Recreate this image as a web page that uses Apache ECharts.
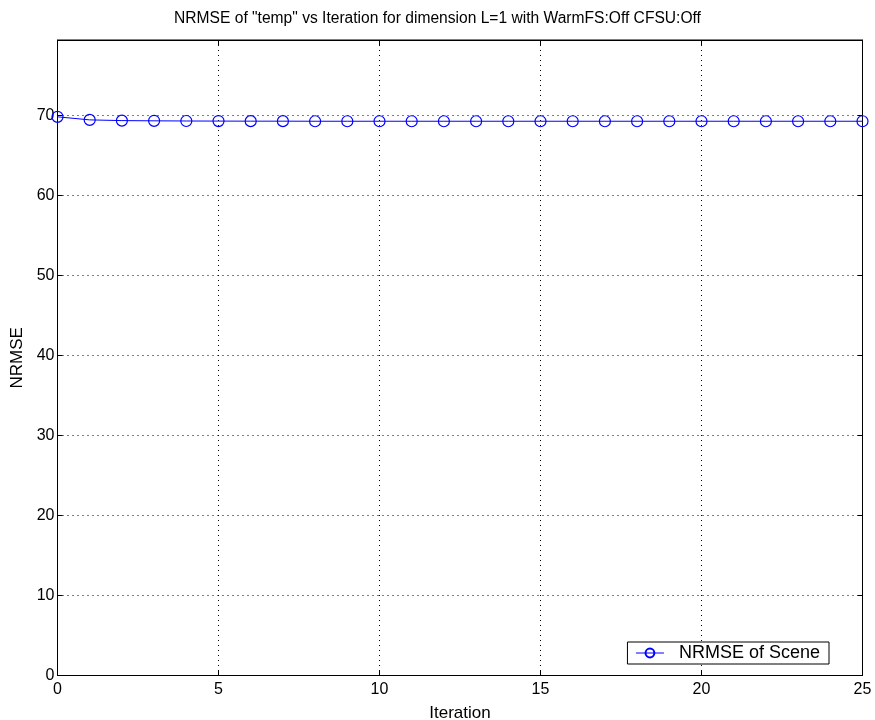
<!DOCTYPE html>
<html>
<head>
<meta charset="utf-8">
<style>
  html, body { margin: 0; padding: 0; background: #fff; }
  #chart { width: 875px; height: 720px; }
</style>
<script src="https://cdn.jsdelivr.net/npm/echarts@6/dist/echarts.min.js"></script>
</head>
<body>
<div id="chart"></div>
<script>
// NRMSE per iteration
const iterations = [0, 1, 2, 3, 4, 5, 6, 7, 8, 9, 10, 11, 12, 13, 14, 15, 16, 17, 18, 19, 20, 21, 22, 23, 24, 25];
const nrmseScene = [69.8, 69.42, 69.33, 69.3, 69.28, 69.27, 69.26, 69.26, 69.25, 69.25, 69.25, 69.25, 69.25,
                    69.25, 69.25, 69.25, 69.25, 69.25, 69.25, 69.25, 69.25, 69.25, 69.25, 69.25, 69.25, 69.25];
const xTicks = [0, 5, 10, 15, 20, 25];
const yTicks = [0, 10, 20, 30, 40, 50, 60, 70];
const yMax = 79.4;

const FONT = 'Arial, "Liberation Sans", Helvetica, sans-serif';
const chart = echarts.init(document.getElementById('chart'), null, { renderer: 'canvas' });

// inward tick marks on all four sides of the box
const ticks = vals => ({
  show: true, inside: true, length: 5, customValues: vals,
  lineStyle: { color: '#000', width: 1 }
});
const dotted = () => ({ show: true, lineStyle: { color: '#000', type: [1, 4], width: 1 } });
const line = () => ({ show: true, onZero: false, lineStyle: { color: '#000', width: 1 } });

chart.setOption({
  animation: false,
  backgroundColor: '#fff',
  textStyle: { fontFamily: FONT },
  title: {
    text: 'NRMSE of "temp" vs Iteration for dimension L=1 with WarmFS:Off CFSU:Off',
    left: 'center', top: 6,
    textStyle: { fontFamily: FONT, fontSize: 15.6, fontWeight: 'normal', color: '#000' }
  },
  grid: {
    left: 57.5, right: 12.5, top: 40, bottom: 44.5,
    containLabel: false, outerBoundsMode: 'none',
    show: true, borderColor: '#000', borderWidth: 1
  },
  legend: {
    right: 46, bottom: 56,
    padding: [2, 9, 2, 8],
    borderColor: '#000', borderWidth: 1, borderRadius: 0,
    backgroundColor: '#fff',
    itemWidth: 28, itemHeight: 11,
    lineStyle: { width: 1 },
    textStyle: { fontFamily: FONT, fontSize: 18, color: '#000', padding: [0, 0, 0, 10] },
    data: [{ name: 'NRMSE of Scene' }]
  },
  xAxis: [{
    type: 'value', min: xTicks[0], max: xTicks[xTicks.length - 1], interval: 5,
    name: 'Iteration', nameLocation: 'middle', nameGap: 29,
    nameTextStyle: { fontFamily: FONT, fontSize: 17, color: '#000' },
    axisLine: line(),
    axisTick: ticks(xTicks),
    axisLabel: { fontFamily: FONT, fontSize: 16, color: '#000', margin: 6 },
    splitLine: dotted()
  }, {
    type: 'value', position: 'top', min: xTicks[0], max: xTicks[xTicks.length - 1], interval: 5,
    axisLine: line(),
    axisTick: ticks(xTicks), axisLabel: { show: false }, splitLine: { show: false }
  }],
  yAxis: [{
    type: 'value', min: 0, max: yMax,
    name: 'NRMSE', nameLocation: 'middle', nameGap: 32,
    nameTextStyle: { fontFamily: FONT, fontSize: 17, color: '#000' },
    axisLine: line(),
    axisTick: ticks(yTicks),
    axisLabel: { fontFamily: FONT, fontSize: 16, color: '#000', margin: 3, customValues: yTicks },
    splitLine: dotted()
  }, {
    type: 'value', position: 'right', min: 0, max: yMax,
    axisLine: line(),
    axisTick: ticks(yTicks), axisLabel: { show: false }, splitLine: { show: false }
  }],
  series: [{
    name: 'NRMSE of Scene',
    type: 'line',
    xAxisIndex: 0, yAxisIndex: 0,
    data: iterations.map((it, i) => [it, nrmseScene[i]]),
    symbol: 'circle', symbolSize: 11,
    itemStyle: { color: 'rgba(0,0,0,0)', borderColor: '#0000ff', borderWidth: 1.2 },
    lineStyle: { color: '#0000ff', width: 1 },
    clip: false
  }]
});
</script>
</body>
</html>
